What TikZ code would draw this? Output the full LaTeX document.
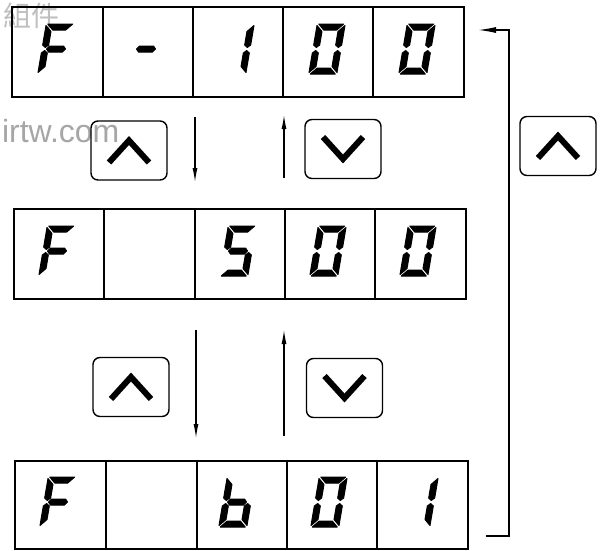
\documentclass[tikz,border=0pt]{standalone}
\usepackage{fontspec}
\newfontfamily\cjkwm{Noto Sans CJK TC}
\newfontfamily\latwm{Liberation Sans}
\usetikzlibrary{arrows.meta}
\tikzset{
  cellbox/.style={draw, line width=1.3pt, inner sep=0pt, outer sep=0pt},
  keybox/.style={draw, line width=1.4pt, rounded corners=7pt, minimum width=76pt, minimum height=59pt, inner sep=0pt},
  chev/.style={line width=6pt, line cap=butt, line join=miter},
  segsty/.style={fill=black, draw=black, line width=1pt, line join=round},
  flowarrow/.style={line width=1.1pt, -{Latex[length=14pt,width=5pt]}},
  loopline/.style={line width=1.3pt, -{Latex[length=18pt,width=6pt]}},
  wmark/.style={inner sep=0pt, outer sep=0pt},
}
\newcommand\sgA{\path[segsty] (-12.5,-25) -- (12.5,-25) -- (6.5,-19) -- (-6.5,-19) -- cycle;}
\newcommand\sgD{\path[segsty] (-12.5,25) -- (12.5,25) -- (6.5,19) -- (-6.5,19) -- cycle;}
\newcommand\sgG{\path[segsty] (-9.5,0) -- (-7,-3) -- (7,-3) -- (9.5,0) -- (7,3) -- (-7,3) -- cycle;}
\newcommand\sgF{\path[segsty] (-14,-23.5) -- (-8,-17.5) -- (-8,-4) -- (-11,-1.5) -- (-14,-4) -- cycle;}
\newcommand\sgB{\path[segsty] (14,-23.5) -- (8,-17.5) -- (8,-4) -- (11,-1.5) -- (14,-4) -- cycle;}
\newcommand\sgE{\path[segsty] (-14,23.5) -- (-8,17.5) -- (-8,4) -- (-11,1.5) -- (-14,4) -- cycle;}
\newcommand\sgC{\path[segsty] (14,23.5) -- (8,17.5) -- (8,4) -- (11,1.5) -- (14,4) -- cycle;}
\newcommand\segdigit[3]{\begin{scope}[shift={(#1,#2)}, xslant=0.17]#3\end{scope}}
\newcommand\dZero{\sgA\sgB\sgC\sgD\sgE\sgF}
\newcommand\dF{\sgA\sgF\sgG\sgE}
\newcommand\dOne{\sgB\sgC}
\newcommand\dDash{\sgG}
\newcommand\dFive{\sgA\sgF\sgG\sgC\sgD}
\newcommand\dLowB{\sgF\sgE\sgG\sgC\sgD}
\newcommand\upchev[1]{\draw[chev] ([shift={(-20,12)}]#1.center) -- ([shift={(0,-10)}]#1.center) -- ([shift={(20,12)}]#1.center);}
\newcommand\dnchev[1]{\draw[chev] ([shift={(-20,-12)}]#1.center) -- ([shift={(0,10)}]#1.center) -- ([shift={(20,-12)}]#1.center);}
\begin{document}
\begin{tikzpicture}[x=1pt,y=-1pt]
\clip (0,0) rectangle (603,550);
\fill[white] (0,0) rectangle (603,550);
% watermarks
\node[wmark, anchor=base west, text=black!25, font=\cjkwm\fontsize{28}{28}\selectfont] (wmcjk) at (3,26) {組件};
\node[wmark, anchor=base west, text=black!35, font=\latwm\fontsize{32}{32}\selectfont] (wmurl) at (2,142) {irtw.com};
% row 1
\foreach \n/\xa/\xb in {1/12/103, 2/103/193, 3/193/283, 4/283/373, 5/373/464}
  \node[cellbox, minimum width={\xb-\xa}, minimum height=90] (ra\n) at ({(\xa+\xb)/2},52) {};
% row 2
\foreach \n/\xa/\xb in {1/14/104, 2/104/195, 3/195/285, 4/285/375, 5/375/466}
  \node[cellbox, minimum width={\xb-\xa}, minimum height=90] (rb\n) at ({(\xa+\xb)/2},254) {};
% row 3
\foreach \n/\xa/\xb in {1/15/106, 2/106/197, 3/197/287, 4/287/377, 5/377/468}
  \node[cellbox, minimum width={\xb-\xa}, minimum height=88] (rc\n) at ({(\xa+\xb)/2},505) {};
% digits row 1: F - 1 0 0
\segdigit{56}{49}{\dF}
\segdigit{146}{49}{\dDash}
\segdigit{236}{49}{\dOne}
\segdigit{327}{49}{\dZero}
\segdigit{417}{49}{\dZero}
% digits row 2: F _ 5 0 0
\segdigit{57}{251}{\dF}
\segdigit{238}{251}{\dFive}
\segdigit{328}{251}{\dZero}
\segdigit{418}{251}{\dZero}
% digits row 3: F _ b 0 1
\segdigit{58}{502}{\dF}
\segdigit{237}{502}{\dLowB}
\segdigit{329}{502}{\dZero}
\segdigit{420}{502}{\dOne}
% keys
\node[keybox] (kup1) at (129,150.5) {};
\node[keybox] (kdn1) at (343,149) {};
\node[keybox] (kup2) at (131,387) {};
\node[keybox] (kdn2) at (344.5,388) {};
\node[keybox] (kup3) at (558,146) {};
\upchev{kup1}
\dnchev{kdn1}
\upchev{kup2}
\dnchev{kdn2}
\upchev{kup3}
% flow arrows
\coordinate (a1s) at (195,117); \coordinate (a1e) at (195,182);
\coordinate (a2s) at (284,178); \coordinate (a2e) at (284,115);
\coordinate (a3s) at (196,330); \coordinate (a3e) at (196,438);
\coordinate (a4s) at (284,436); \coordinate (a4e) at (284,330);
\draw[flowarrow] (a1s) -- (a1e);
\draw[flowarrow] (a2s) -- (a2e);
\draw[flowarrow] (a3s) -- (a3e);
\draw[flowarrow] (a4s) -- (a4e);
% loop connector
\coordinate (ls) at (486,536);
\coordinate (lc1) at (509,536);
\coordinate (lc2) at (509,30);
\coordinate (le) at (478,30);
\draw[loopline] (ls) -- (lc1) -- (lc2) -- (le);
\end{tikzpicture}
\end{document}
